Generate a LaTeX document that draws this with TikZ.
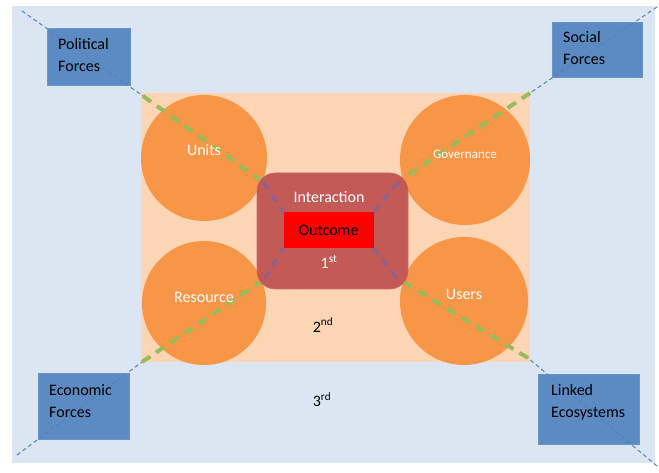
\documentclass[tikz,border=0pt]{standalone}
\usepackage{fontspec}
\setmainfont{Carlito}
\definecolor{outerblue}{HTML}{DCE6F2}
\definecolor{peach}{HTML}{FCD5B5}
\definecolor{orng}{HTML}{F79646}
\definecolor{boxblue}{HTML}{4F81BD}
\definecolor{intred}{HTML}{C0504D}
\definecolor{grn}{HTML}{9BBB59}
\definecolor{purp}{HTML}{8064A2}
\begin{document}
\begin{tikzpicture}[x=1pt,y=-1pt,
  forcebox/.style={rectangle, fill=boxblue, fill opacity=0.9, draw=boxblue!85!white, line width=0.5pt, inner sep=0pt, anchor=north west},
  forcetext/.style={align=left, font=\fontsize{16}{22}\selectfont, text=black, inner sep=0pt, anchor=west},
  circ/.style={circle, fill=orng, inner sep=0pt},
  clabel/.style={text=white, font=\fontsize{16}{19}\selectfont},
  bluedash/.style={draw=boxblue, line width=1pt, dash pattern=on 4pt off 3pt},
  greendash/.style={draw=grn, line width=4pt, dash pattern=on 10pt off 7pt},
  purpdash/.style={draw=purp, line width=3pt, dash pattern=on 9pt off 6pt, opacity=0.85},
  plain/.style={text=black, font=\fontsize{16}{19}\selectfont}]
\useasboundingbox (0,0) rectangle (659,473);
\fill[white] (0,0) rectangle (659,473);
% layers
\node[rectangle, fill=outerblue, minimum width=643pt, minimum height=457pt, anchor=north west, inner sep=0pt] (outer) at (12,6) {};
\node[rectangle, fill=peach, minimum width=389pt, minimum height=269pt, anchor=north west, inner sep=0pt] (peach) at (141,93) {};
% joint coordinates
\coordinate (tlO) at (22,11);   \coordinate (tlP) at (143,96);  \coordinate (tlI) at (263,182); \coordinate (tlC) at (284,213);
\coordinate (trO) at (657,7);   \coordinate (trP) at (530,93);  \coordinate (trI) at (398,182); \coordinate (trC) at (373,213);
\coordinate (blO) at (17,455);  \coordinate (blP) at (142,362); \coordinate (blI) at (265,279); \coordinate (blC) at (283,248);
\coordinate (brO) at (657,466); \coordinate (brP) at (528,358); \coordinate (brI) at (397,278); \coordinate (brC) at (373,248);
% blue dashed outer lines
\draw[bluedash] (tlO) -- (tlP);
\draw[bluedash] (trO) -- (trP);
\draw[bluedash] (blO) -- (blP);
\draw[bluedash] (brO) -- (brP);
% force boxes
\node[forcebox, minimum width=83pt, minimum height=57pt] (pol) at (47,28) {};
\node[forcebox, minimum width=90pt, minimum height=55pt] (soc) at (552,22) {};
\node[forcebox, minimum width=91pt, minimum height=66pt] (eco) at (38,373) {};
\node[forcebox, minimum width=101pt, minimum height=70pt] (lnk) at (538,374) {};
\node[forcetext] (polT) at (58,55) {Political\\Forces};
\node[forcetext] (socT) at (563,48.5) {Social\\Forces};
\node[forcetext] (ecoT) at (49,401) {Economic\\Forces};
\node[forcetext] (lnkT) at (551,402) {Linked\\Ecosystems};
% circles
\node[circ, minimum size=126pt] (units) at (204,158) {};
\node[circ, minimum size=130pt] (gov) at (465,160) {};
\node[circ, minimum size=124pt] (res) at (204,303) {};
\node[circ, minimum size=128pt] (users) at (464,301) {};
% green dashed
\draw[greendash] (tlP) -- (tlI);
\draw[greendash] (trP) -- (trI);
\draw[greendash] (blP) -- (blI);
\draw[greendash] (brP) -- (brI);
% interaction box
\node[rectangle, fill=intred, fill opacity=0.92, draw=intred!85!white, line width=0.6pt, rounded corners=18pt, minimum width=151pt, minimum height=116pt, inner sep=0pt] (inter) at (332.5,231) {};
% purple dashed
\draw[purpdash] (tlI) -- (tlC);
\draw[purpdash] (trI) -- (trC);
\draw[purpdash] (blI) -- (blC);
\draw[purpdash] (brI) -- (brC);
% outcome
\node[rectangle, fill=red, minimum width=90pt, minimum height=36pt, inner sep=0pt, plain] (outc) at (328.5,230.5) {Outcome};
% labels
\node[clabel] (unitsL) at (204,150) {Units};
\node[clabel, font=\fontsize{13}{15}\selectfont] (govL) at (465,154) {Governance};
\node[clabel] (resL) at (204,297) {Resource};
\node[clabel] (usersL) at (464,294) {Users};
\node[clabel] (interL) at (329,197) {Interaction};
\node[clabel] (firstL) at (329,262) {1\textsuperscript{st}};
\node[plain] (secondL) at (323,325) {2\textsuperscript{nd}};
\node[plain] (thirdL) at (322,400) {3\textsuperscript{rd}};
\end{tikzpicture}
\end{document}
